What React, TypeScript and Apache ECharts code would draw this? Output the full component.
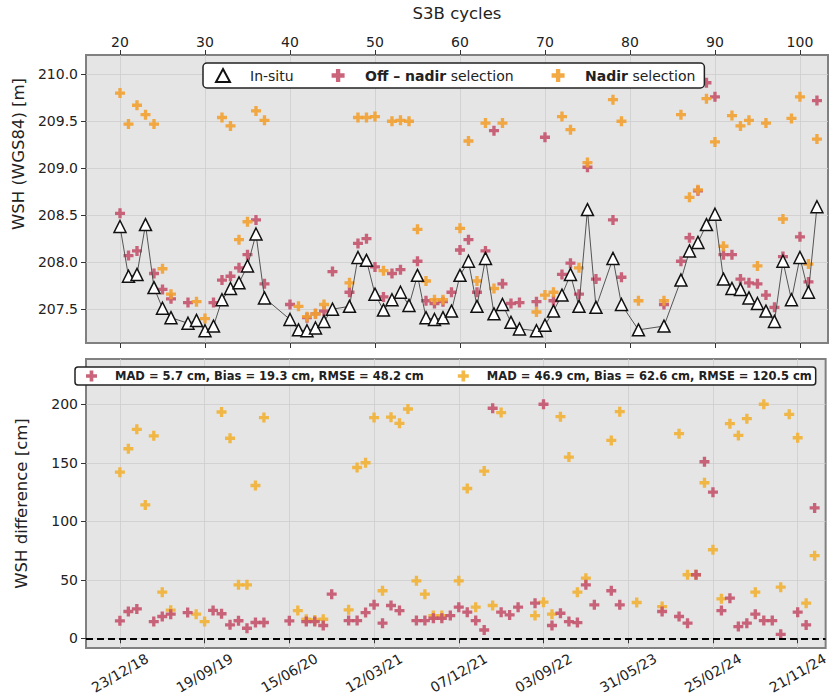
import { useEffect, useRef } from "react";
import * as echarts from "echarts";

// ---------- data ----------
const cycleTicks = [20, 30, 40, 50, 60, 70, 80, 90, 100];
const dateLabels = ["23/12/18", "19/09/19", "15/06/20", "12/03/21", "07/12/21", "03/09/22", "31/05/23", "25/02/24", "21/11/24"];
const wshTicks = [207.5, 208.0, 208.5, 209.0, 209.5, 210.0];
const diffTicks = [0, 50, 100, 150, 200];

const insituCycles = [20, 21, 22, 23, 24, 25, 26, 28, 29, 30, 31, 32, 33, 34, 35, 36, 37, 40, 41, 42, 43, 44, 45, 47, 48, 49, 50, 51, 52, 53, 54, 55, 56, 57, 58, 59, 60, 61, 62, 63, 64, 65, 66, 67, 69, 70, 71, 72, 73, 74, 75, 76, 78, 79, 81, 84, 86, 87, 88, 89, 90, 91, 92, 93, 94, 95, 96, 97, 98, 99, 100, 101, 102];
const insituWsh = [208.38, 207.85, 207.87, 208.40, 207.73, 207.51, 207.41, 207.35, 207.38, 207.27, 207.32, 207.60, 207.72, 207.78, 207.96, 208.30, 207.62, 207.39, 207.28, 207.27, 207.30, 207.37, 207.50, 207.53, 208.05, 208.02, 207.66, 207.49, 207.60, 207.68, 207.54, 207.86, 207.41, 207.39, 207.41, 207.48, 207.86, 208.01, 207.53, 208.04, 207.45, 207.55, 207.36, 207.29, 207.27, 207.33, 207.48, 207.65, 207.87, 207.53, 208.56, 207.52, 208.04, 207.55, 207.28, 207.32, 207.81, 208.12, 208.21, 208.40, 208.51, 207.82, 207.72, 207.71, 207.62, 207.56, 207.48, 207.37, 208.01, 207.60, 208.05, 207.68, 208.59];

const offCycles = [20, 21, 22, 24, 25, 26, 28, 31, 32, 33, 34, 35, 36, 37, 40, 42, 43, 44, 45, 47, 48, 49, 50, 51, 52, 53, 55, 56, 57, 58, 59, 60, 61, 62, 63, 64, 65, 66, 67, 69, 70, 71, 72, 73, 74, 75, 76, 78, 79, 84, 86, 87, 88, 89, 90, 91, 92, 93, 94, 95, 96, 97, 98, 100, 101, 102];
const offWsh = [208.52, 208.07, 208.12, 207.88, 207.71, 207.61, 207.57, 207.57, 207.81, 207.85, 207.94, 208.08, 208.45, 207.77, 207.55, 207.41, 207.45, 207.48, 207.90, 207.68, 208.20, 208.25, 207.95, 207.63, 207.88, 207.92, 208.01, 207.59, 207.56, 207.58, 207.68, 208.13, 208.24, 207.68, 208.12, 209.40, 207.77, 207.56, 207.57, 207.58, 209.33, 207.59, 207.87, 207.99, 207.66, 209.01, 207.82, 208.45, 207.84, 207.55, 208.01, 208.26, 208.76, 209.91, 209.76, 208.08, 208.08, 207.82, 207.78, 207.77, 207.65, 207.52, 208.06, 208.27, 207.79, 209.72];
const offDiff = [14.9, 22.9, 25.1, 14.3, 18.6, 20.6, 22.0, 23.8, 21.0, 11.5, 15.0, 8.6, 13.5, 13.5, 14.9, 14.3, 14.3, 10.9, 37.7, 15.1, 15.1, 22.0, 28.6, 12.9, 28.0, 23.7, 15.1, 15.1, 17.1, 17.1, 19.4, 26.6, 22.3, 15.1, 7.1, 196.6, 22.3, 20.0, 26.6, 30.0, 200.0, 10.9, 21.4, 14.3, 13.4, 45.7, 28.6, 40.6, 28.6, 22.9, 18.6, 12.9, 54.3, 150.9, 124.9, 23.7, 34.3, 10.0, 12.9, 20.6, 15.1, 15.1, 3.4, 22.3, 11.4, 111.4];

const nadCycles = [20, 21, 22, 23, 24, 25, 26, 29, 30, 32, 33, 34, 35, 36, 37, 41, 42, 43, 44, 47, 48, 49, 50, 51, 52, 53, 54, 55, 56, 57, 58, 60, 61, 62, 63, 64, 65, 69, 70, 71, 72, 73, 74, 75, 78, 79, 81, 84, 86, 87, 88, 89, 90, 91, 92, 93, 94, 95, 96, 98, 99, 100, 101, 102];
const nadWsh = [209.80, 209.47, 209.67, 209.57, 209.47, 207.93, 207.66, 207.58, 207.40, 209.54, 209.45, 208.24, 208.43, 209.61, 209.51, 207.53, 207.42, 207.45, 207.55, 207.78, 209.54, 209.54, 209.55, 207.91, 209.50, 209.51, 209.50, 208.35, 207.80, 207.60, 207.60, 208.36, 209.29, 207.80, 209.48, 207.72, 209.48, 207.47, 207.65, 207.68, 209.55, 209.41, 207.94, 209.06, 209.73, 209.50, 207.59, 207.59, 209.57, 208.69, 208.77, 209.74, 209.28, 208.17, 209.56, 209.45, 209.51, 207.96, 209.48, 208.46, 209.53, 209.76, 207.98, 209.31];
const nadDiff = [142.0, 162.0, 178.6, 114.0, 173.0, 39.4, 24.0, 20.6, 14.3, 193.4, 171.0, 45.7, 45.7, 130.6, 188.6, 23.7, 16.3, 15.7, 16.3, 24.3, 146.0, 150.0, 188.6, 40.6, 189.0, 183.7, 196.0, 49.1, 37.7, 19.4, 19.4, 49.1, 128.0, 26.6, 142.9, 28.0, 192.9, 19.4, 30.9, 20.6, 189.4, 154.9, 39.4, 51.4, 169.1, 193.7, 30.6, 27.1, 174.9, 54.3, 54.3, 132.9, 75.7, 33.7, 183.4, 173.4, 187.7, 39.4, 200.0, 43.7, 191.4, 171.4, 30.0, 70.6];

const offStats = "MAD = 5.7 cm, Bias = 19.3 cm, RMSE = 48.2 cm";
const nadStats = "MAD = 46.9 cm, Bias = 62.6 cm, RMSE = 120.5 cm";

// ---------- styles ----------
const PLUS = "path://M3,0H6V3H9V6H6V9H3V6H0V3H3Z";
const RED = "#c4536c";
const ORANGE_TOP = "#f2a030";
const ORANGE_BOT = "#f2b134";
const FONT = "DejaVu Sans";
const GRID_BG = "#e5e5e5";
const FRAME = "#808080";
const SPLIT = "#cdcdcd";

const zip = (xs: number[], ys: number[]) => xs.map((x, i) => [x, ys[i]]);

const X_MIN = 16;
const X_MAX = 103.3;

function buildOption(): any {
  const commonX = {
    type: "value",
    min: X_MIN,
    max: X_MAX,
    splitNumber: 9,
    axisLine: { show: false },
    axisTick: { show: true, length: 5, customValues: cycleTicks, lineStyle: { color: "#333", width: 1 } },
    splitLine: { show: true, lineStyle: { color: SPLIT, width: 0.8 } },
  };
  return {
    animation: false,
    backgroundColor: "#ffffff",
    textStyle: { fontFamily: FONT },
    grid: [
      { left: 86, top: 55, width: 742, height: 288, show: true, backgroundColor: GRID_BG, borderColor: FRAME, borderWidth: 2 },
      { left: 86, top: 359, width: 742, height: 289, show: true, backgroundColor: GRID_BG, borderColor: FRAME, borderWidth: 2 },
    ],
    xAxis: [
      {
        ...commonX,
        gridIndex: 0,
        position: "top",
        name: "S3B cycles",
        nameLocation: "middle",
        nameGap: 33,
        nameTextStyle: { fontFamily: FONT, fontSize: 16.5, color: "#222" },
        axisLabel: { customValues: cycleTicks, fontFamily: FONT, fontSize: 14, color: "#222", margin: 6 },
      },
      {
        ...commonX,
        gridIndex: 0,
        position: "bottom",
        splitLine: { show: false },
        axisLabel: { show: false },
      },
      {
        ...commonX,
        gridIndex: 1,
        position: "bottom",
        axisLabel: {
          customValues: cycleTicks,
          rotate: 30,
          align: "center",
          verticalAlign: "middle",
          fontFamily: FONT,
          fontSize: 14,
          color: "#222",
          margin: 25,
          formatter: (v: number) => dateLabels[Math.round((v - 20) / 10)] ?? "",
        },
      },
    ],
    yAxis: [
      {
        type: "value",
        gridIndex: 0,
        min: 207.14,
        max: 210.205,
        splitNumber: 6,
        name: "WSH (WGS84) [m]",
        nameLocation: "middle",
        nameGap: 56,
        nameTextStyle: { fontFamily: FONT, fontSize: 16.5, color: "#222", padding: [0, 0, 0, 90] },
        axisLine: { show: false },
        axisTick: { show: true, length: 5, customValues: wshTicks, lineStyle: { color: "#333" } },
        axisLabel: { customValues: wshTicks, fontFamily: FONT, fontSize: 14, color: "#222", margin: 8, formatter: (v: number) => v.toFixed(1) },
        splitLine: { show: true, lineStyle: { color: SPLIT, width: 0.8 } },
      },
      {
        type: "value",
        gridIndex: 1,
        min: -8.3,
        max: 238.7,
        splitNumber: 5,
        name: "WSH difference [cm]",
        nameLocation: "middle",
        nameGap: 56,
        nameTextStyle: { fontFamily: FONT, fontSize: 16.5, color: "#222" },
        axisLine: { show: false },
        axisTick: { show: true, length: 5, customValues: diffTicks, lineStyle: { color: "#333" } },
        axisLabel: { customValues: diffTicks, fontFamily: FONT, fontSize: 14, color: "#222", margin: 8 },
        splitLine: { show: true, lineStyle: { color: SPLIT, width: 0.8 } },
      },
    ],
    legend: [
      {
        data: [{ name: "In-situ", icon: "triangle" }, "Off – nadir selection", "Nadir selection"],
        left: 203,
        top: 63,
        orient: "horizontal",
        z: 20,
        padding: [5, 9, 5, 12],
        itemWidth: 14,
        itemHeight: 13,
        itemGap: 38,
        backgroundColor: "#ffffff",
        borderColor: "#222",
        borderWidth: 1.5,
        borderRadius: 4,
        selectedMode: false,
        formatter: (name: string) => {
          if (name === "Off – nadir selection") return "{b|Off – nadir} selection";
          if (name === "Nadir selection") return "{b|Nadir} selection";
          return name;
        },
        textStyle: {
          fontFamily: FONT,
          fontSize: 14,
          color: "#222",
          padding: [0, 0, 0, 15],
          rich: { b: { fontFamily: FONT, fontSize: 14, fontWeight: "bold", color: "#222" } },
        },
      },
      {
        data: [offStats, nadStats],
        left: 75,
        top: 367,
        width: 760,
        orient: "horizontal",
        z: 20,
        padding: [3, 4, 3, 11],
        itemWidth: 11,
        itemHeight: 11,
        itemGap: 34,
        backgroundColor: "#ffffff",
        borderColor: "#222",
        borderWidth: 1.5,
        borderRadius: 3,
        selectedMode: false,
        textStyle: { fontFamily: FONT, fontSize: 11.5, fontWeight: "bold", color: "#222", padding: [0, 0, 0, 13] },
      },
    ],
    series: [
      {
        name: "Off – nadir selection",
        type: "scatter",
        xAxisIndex: 0,
        yAxisIndex: 0,
        symbol: PLUS,
        symbolSize: 10,
        itemStyle: { color: RED, opacity: 0.9 },
        data: zip(offCycles, offWsh),
        z: 2,
      },
      {
        name: "Nadir selection",
        type: "scatter",
        xAxisIndex: 0,
        yAxisIndex: 0,
        symbol: PLUS,
        symbolSize: 10,
        itemStyle: { color: ORANGE_TOP, opacity: 0.9 },
        data: zip(nadCycles, nadWsh),
        z: 2,
      },
      {
        name: "In-situ",
        type: "line",
        xAxisIndex: 0,
        yAxisIndex: 0,
        symbol: "triangle",
        symbolSize: 12,
        showAllSymbol: true,
        itemStyle: { color: "#ffffff", borderColor: "#111", borderWidth: 1.5 },
        lineStyle: { color: "#444", width: 0.9 },
        data: zip(insituCycles, insituWsh),
        z: 3,
      },
      {
        name: offStats,
        type: "scatter",
        xAxisIndex: 2,
        yAxisIndex: 1,
        symbol: PLUS,
        symbolSize: 10,
        itemStyle: { color: RED, opacity: 0.9 },
        data: zip(offCycles, offDiff),
        z: 3,
        markLine: {
          silent: true,
          symbol: ["none", "none"],
          label: { show: false },
          lineStyle: { color: "#000", type: [7, 4], width: 2 },
          data: [{ yAxis: 0 }],
        },
      },
      {
        name: nadStats,
        type: "scatter",
        xAxisIndex: 2,
        yAxisIndex: 1,
        symbol: PLUS,
        symbolSize: 10,
        itemStyle: { color: ORANGE_BOT, opacity: 0.9 },
        data: zip(nadCycles, nadDiff),
        z: 2,
      },
    ],
  };
}

export default function App() {
  const ref = useRef<HTMLDivElement>(null);
  useEffect(() => {
    if (!ref.current) return;
    const chart = echarts.init(ref.current, undefined, { renderer: "svg" });
    chart.setOption(buildOption());
    return () => chart.dispose();
  }, []);
  return <div ref={ref} style={{ position: "absolute", left: 0, top: 0, width: 831, height: 700, background: "#fff" }} />;
}
